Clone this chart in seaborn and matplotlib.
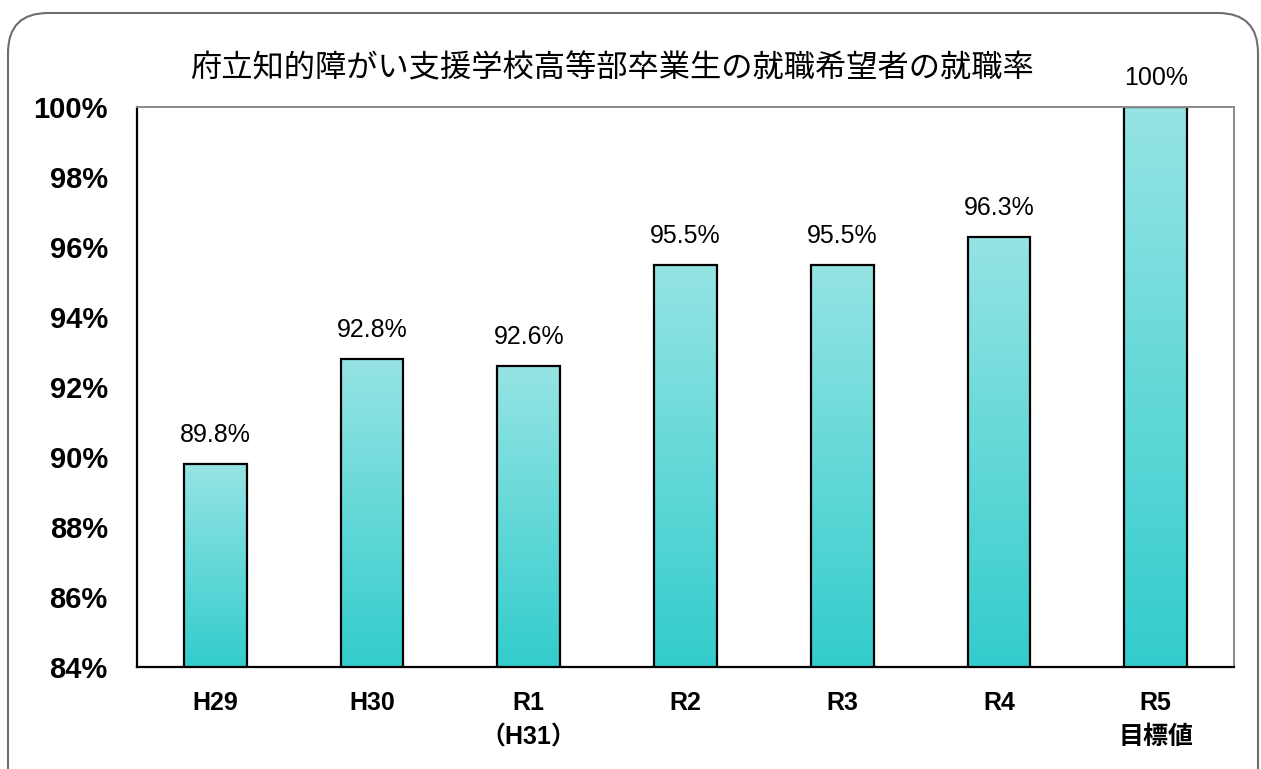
import matplotlib
matplotlib.use("Agg")
import matplotlib.pyplot as plt
import matplotlib.transforms as mtransforms
from matplotlib.patches import FancyBboxPatch
from matplotlib.ticker import FixedLocator
import numpy as np
import seaborn as sns

# data
categories = ["H29", "H30", "R1\n（H31）", "R2", "R3", "R4", "R5\n目標値"]
rates = [89.8, 92.8, 92.6, 95.5, 95.5, 96.3, 100.0]
value_labels = ["89.8%", "92.8%", "92.6%", "95.5%", "95.5%", "96.3%", "100%"]
title = "府立知的障がい支援学校高等部卒業生の就職希望者の就職率"

TOP_COLOR = np.array([150, 228, 228]) / 255
BOTTOM_COLOR = np.array([51, 204, 204]) / 255

sns.set_theme(style="white")
plt.rcParams["font.family"] = ["Liberation Sans", "Noto Sans CJK JP", "DejaVu Sans"]
plt.rcParams.update({"text.color": "black", "xtick.color": "black", "ytick.color": "black",
                     "axes.labelcolor": "black"})

fig = plt.figure(figsize=(12.61, 7.69), dpi=100)
ax = fig.add_axes([137 / 1261, 1 - 667 / 769, (1234 - 137) / 1261, (667 - 107) / 769])

sns.barplot(x=categories, y=rates, width=0.4, color=BOTTOM_COLOR,
            edgecolor="black", linewidth=1.6, ax=ax)

ax.set_ylim(84, 100)
ax.set_xlim(-0.5, len(categories) - 0.5)

# vertical gradient inside each bar
grad = np.linspace(0, 1, 256).reshape(-1, 1)
cmap = matplotlib.colors.LinearSegmentedColormap.from_list("teal", [BOTTOM_COLOR, TOP_COLOR])
for bar in ax.patches:
    x0, y0 = bar.get_x(), bar.get_y()
    w, h = bar.get_width(), bar.get_height()
    y_lo = max(y0, 84)
    im = ax.imshow(grad, extent=(x0, x0 + w, y_lo, y0 + h), origin="lower",
                   cmap=cmap, aspect="auto", zorder=bar.get_zorder() - 0.1)
    im.set_clip_path(bar)
    bar.set_facecolor("none")

for bar, label in zip(ax.patches, value_labels):
    ax.annotate(label, (bar.get_x() + bar.get_width() / 2, bar.get_height()),
                xytext=(0, 12), textcoords="offset points", ha="center", va="bottom",
                fontsize=18, annotation_clip=False)

ax.set_yticks(np.arange(84, 101, 2))
ax.set_yticklabels([f"{v}%" for v in range(84, 101, 2)], fontsize=21, fontweight="bold")
ax.tick_params(axis="y", direction="in", length=7, width=1.2, color="black", pad=21)
ax.tick_params(axis="x", which="major", length=0, pad=17)
ax.xaxis.set_minor_locator(FixedLocator(np.arange(0.5, len(categories) - 1, 1)))
ax.tick_params(axis="x", which="minor", direction="in", length=5, width=1.2, color="black")
for lbl in ax.get_xticklabels():
    lbl.set_fontsize(18)
    lbl.set_fontweight("bold")
    lbl.set_linespacing(1.55)
    lbl.set_va("top")

for side in ["left", "bottom"]:
    ax.spines[side].set_color("black")
    ax.spines[side].set_linewidth(1.6)
for side in ["top", "right"]:
    ax.spines[side].set_color("#8a8a8a")
    ax.spines[side].set_linewidth(1.4)
    ax.spines[side].set_visible(True)

fig.text(612 / 1261, 1 - 68 / 769, title, ha="center", va="center", fontsize=22.5,
         family=["Noto Sans CJK JP", "DejaVu Sans"])

# rounded outer frame, drawn in pixel coordinates
frame = FancyBboxPatch((8, -60), 1250, 769 - 13 + 60, boxstyle="round,pad=0,rounding_size=40",
                       transform=mtransforms.IdentityTransform(), facecolor="none",
                       edgecolor="#6e6e6e", linewidth=1.5)
fig.patches.append(frame)

fig.savefig("out.png", dpi=100)
